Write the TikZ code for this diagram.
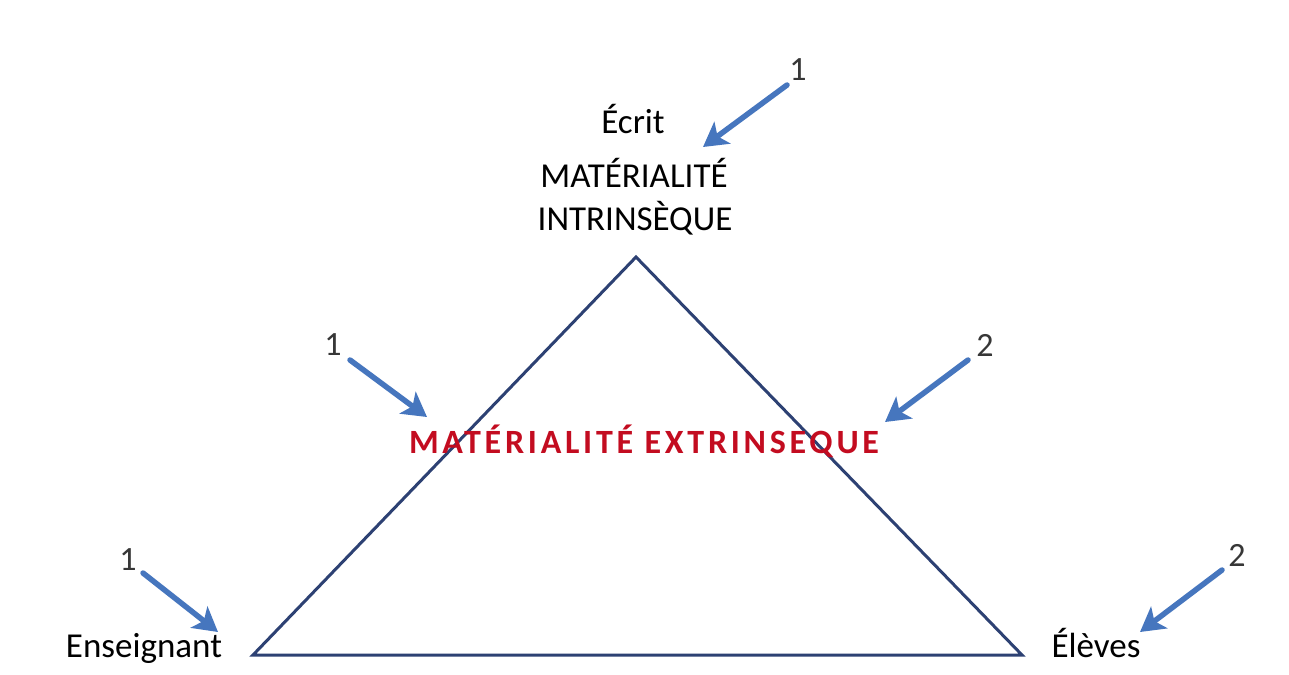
\documentclass[tikz,border=0pt]{standalone}
\usepackage{fontspec}
\setmainfont{Carlito}
\usetikzlibrary{arrows.meta}
\definecolor{arrowblue}{RGB}{70,118,190}
\definecolor{tricol}{RGB}{45,65,115}
\definecolor{redtxt}{RGB}{195,12,32}
\definecolor{numgray}{RGB}{55,55,55}
\begin{document}
\begin{tikzpicture}[x=1pt,y=-1pt,
  lbl/.style={font=\fontsize{35}{43}\selectfont, text=black, inner sep=0pt, anchor=base},
  num/.style={font=\fontsize{34}{40}\selectfont, text=numgray, inner sep=0pt},
  pointer/.style={draw=arrowblue, line width=5.5pt, line cap=round,
    -{Stealth[length=24pt,width=27pt,inset=6pt]}},
  triline/.style={draw=tricol, line width=3pt, line join=miter}]
\useasboundingbox[fill=white] (0,0) rectangle (1289,674);
% triangle
\coordinate (apex) at (636,257);
\coordinate (bl) at (253,655);
\coordinate (br) at (1022,655);
\draw[triline] (apex) -- (bl) -- (br) -- cycle;
% labels
\node[lbl] (ecrit) at (633,133) {Écrit};
\node[lbl] (mat) at (634,187) {MATÉRIALITÉ};
\node[lbl] (intr) at (635,230) {INTRINSÈQUE};
\node[lbl] (ens) at (144,657) {Enseignant};
\node[lbl] (elv) at (1096,657) {Élèves};
\node[inner sep=0pt, anchor=base, text=redtxt,
  font=\fontsize{34}{40}\selectfont\bfseries\addfontfeature{LetterSpace=11}] (ext) at (644,453) {MATÉRIALITÉ EXTRINSEQUE};
% numbers
\node[num] (n1) at (798,70) {1};
\node[num] (n2) at (333,345) {1};
\node[num] (n3) at (985,345) {2};
\node[num] (n4) at (128,560) {1};
\node[num] (n5) at (1237,555) {2};
% arrow ends
\coordinate (s1) at (787,85);   \coordinate (t1) at (703,147);
\coordinate (s2) at (350,360);  \coordinate (t2) at (427,417);
\coordinate (s3) at (968,360);  \coordinate (t3) at (885,422);
\coordinate (s4) at (143,573);  \coordinate (t4) at (218,632);
\coordinate (s5) at (1222,570); \coordinate (t5) at (1140,632);
\draw[pointer] (s1) -- (t1);
\draw[pointer] (s2) -- (t2);
\draw[pointer] (s3) -- (t3);
\draw[pointer] (s4) -- (t4);
\draw[pointer] (s5) -- (t5);
\end{tikzpicture}
\end{document}
